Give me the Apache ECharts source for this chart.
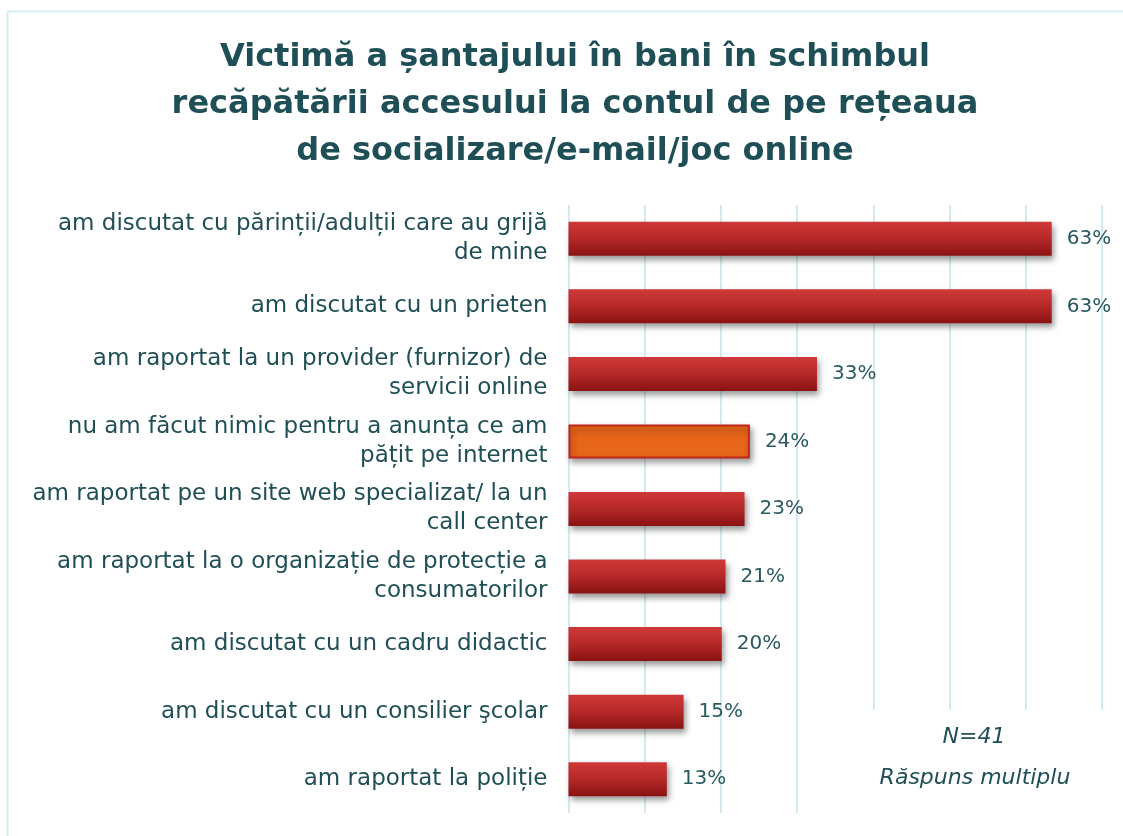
<!DOCTYPE html>
<html><head><meta charset="utf-8">
<script src="https://cdn.jsdelivr.net/npm/echarts@6/dist/echarts.min.js"></script>
<style>html,body{margin:0;padding:0;background:#fff}#c{width:1123px;height:836px}</style>
</head><body><div id="c"></div>
<script>
const categories = [
  "am discutat cu părinții/adulții care au grijă\nde mine",
  "am discutat cu un prieten",
  "am raportat la un provider (furnizor) de\nservicii online",
  "nu am făcut nimic pentru a anunța ce am\npățit pe internet",
  "am raportat pe un site web specializat/ la un\ncall center",
  "am raportat la o organizație de protecție a\nconsumatorilor",
  "am discutat cu un cadru didactic",
  "am discutat cu un consilier şcolar",
  "am raportat la poliție"
];
const values = [63.4, 63.4, 32.6, 23.8, 23.1, 20.6, 20.1, 15.1, 12.9];
const valueLabels = ["63%", "63%", "33%", "24%", "23%", "21%", "20%", "15%", "13%"];
const highlightIndex = 3;
const titleText = "Victimă a șantajului în bani în schimbul\nrecăpătării accesului la contul de pe rețeaua\nde socializare/e-mail/joc online";
const noteLines = ["N=41", "Răspuns multiplu"];

const FONT = "DejaVu Sans";
const TEXT = "#1f4f56";
const redGrad = new echarts.graphic.LinearGradient(0,0,0,1,[
  {offset:0,color:"#cf3838"},{offset:0.45,color:"#b92a2a"},{offset:1,color:"#8a1212"}]);

const chart = echarts.init(document.getElementById('c'), null, {renderer:'canvas'});
const data = values.map((v,i)=>({
  value: v,
  itemStyle: i===highlightIndex
    ? {color:"#e8661a", borderColor:"#c0261c", borderWidth:2,
       shadowColor:"rgba(0,0,0,0.4)", shadowBlur:6, shadowOffsetX:2, shadowOffsetY:4}
    : {color:redGrad, shadowColor:"rgba(0,0,0,0.4)", shadowBlur:6, shadowOffsetX:2, shadowOffsetY:4}
}));

chart.setOption({
  animation:false,
  backgroundColor:"#fff",
  title:{
    text:titleText, left:570, top:29, textAlign:'center',
    textStyle:{fontFamily:FONT, fontWeight:'bold', fontSize:32, lineHeight:47, color:TEXT}
  },
  grid:{left:568.5, right:21, top:205, bottom:23, containLabel:false},
  xAxis:{
    type:'value', min:0, max:70, interval:10,
    axisLabel:{show:false}, axisTick:{show:false}, axisLine:{show:false},
    splitLine:{show:true, lineStyle:{color:"#d3eaf0", width:2}}
  },
  yAxis:{
    type:'category', inverse:true, data:categories,
    axisLine:{show:false}, axisTick:{show:false},
    axisLabel:{margin:21, fontFamily:FONT, fontSize:23, lineHeight:29, color:TEXT, align:'right'}
  },
  series:[{
    type:'bar', data:data, barWidth:34,
    label:{show:true, position:'right', distance:15,
      formatter:p=>valueLabels[p.dataIndex],
      fontFamily:FONT, fontSize:20, color:"#2a5a60"}
  }],
  graphic:[
    {type:'line', shape:{x1:7.5,y1:11.5,x2:7.5,y2:836}, style:{stroke:"#d6edf1", lineWidth:2}, z:100},
    {type:'line', shape:{x1:7.5,y1:11.5,x2:1123,y2:11.5}, style:{stroke:"#d6edf1", lineWidth:2}, z:100},
    {type:'rect', shape:{x:812,y:710,width:300,height:110}, style:{fill:"#fff"}, z:50},
    {type:'text', x:974, y:737, z:60, style:{text:noteLines[0], textAlign:'center', textVerticalAlign:'middle',
      fontFamily:FONT, fontStyle:'italic', fontSize:22, fill:TEXT}},
    {type:'text', x:975, y:778, z:60, style:{text:noteLines[1], textAlign:'center', textVerticalAlign:'middle',
      fontFamily:FONT, fontStyle:'italic', fontSize:22, fill:TEXT}}
  ]
});
</script></body></html>
